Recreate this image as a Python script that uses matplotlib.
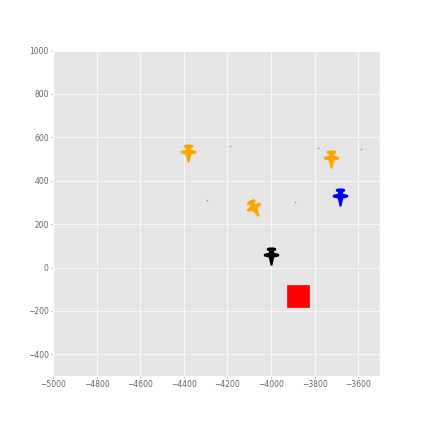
import matplotlib
matplotlib.use("Agg")
import matplotlib.pyplot as plt
from matplotlib.markers import MarkerStyle
from matplotlib.patches import Rectangle
from matplotlib.path import Path
from matplotlib.transforms import Affine2D

# Aircraft positions, colours and headings (deg)
plane_x = [-4380, -3725, -3683, -4078, -4000]
plane_y = [527, 500, 323, 272, 55]
plane_colors = ["orange", "orange", "blue", "orange", "black"]
plane_angles = [0, 0, 0, 28, 0]

# Small markers scattered around the map
dot_x = [-4188, -4294, -3786, -3587, -3891, -4387, -4093]
dot_y = [558, 309, 549, 548, 303, 563, 308]

# Red square: corner and size
square_x = -3925
square_y = -180
square_w = 100
square_h = 100

xticks = [-5000, -4800, -4600, -4400, -4200, -4000, -3800, -3600]
yticks = [-400, -200, 0, 200, 400, 600, 800, 1000]

# Fighter outline, nose pointing down
plane_shape = [
    (-0.25, 1.0), (0.25, 1.0), (0.5, 0.92), (0.52, 0.68), (0.28, 0.6),
    (0.3, 0.42), (0.85, 0.28), (0.85, 0.02), (0.3, -0.12), (0.1, -1.0),
    (-0.1, -1.0), (-0.3, -0.12), (-0.85, 0.02), (-0.85, 0.28), (-0.3, 0.42),
    (-0.28, 0.6), (-0.52, 0.68), (-0.5, 0.92), (-0.25, 1.0),
]

plt.style.use("ggplot")
fig = plt.figure(figsize=(4.23, 4.23), dpi=100)
ax = fig.add_axes([53 / 423, 1 - 376 / 423, 327 / 423, 325.5 / 423])

for x, y, c, a in zip(plane_x, plane_y, plane_colors, plane_angles):
    m = MarkerStyle(Path(plane_shape), transform=Affine2D().rotate_deg(a))
    ax.plot([x], [y], marker=m, color=c, markersize=13, markeredgewidth=0, zorder=3)

ax.plot(dot_x, dot_y, ls="none", marker="o", color="#77aa77", markersize=1.2, markeredgewidth=0, zorder=4)
ax.add_patch(Rectangle((square_x, square_y), square_w, square_h, color="red", zorder=3))

ax.set_xlim(-5000, -3500)
ax.set_ylim(-500, 1000)
ax.set_xticks(xticks)
ax.set_yticks(yticks)
ax.tick_params(labelsize=5.5, length=1.5, width=0.4, pad=1.5, colors="#666666")
ax.grid(True, linewidth=0.5)

fig.savefig("out.png", dpi=100)
